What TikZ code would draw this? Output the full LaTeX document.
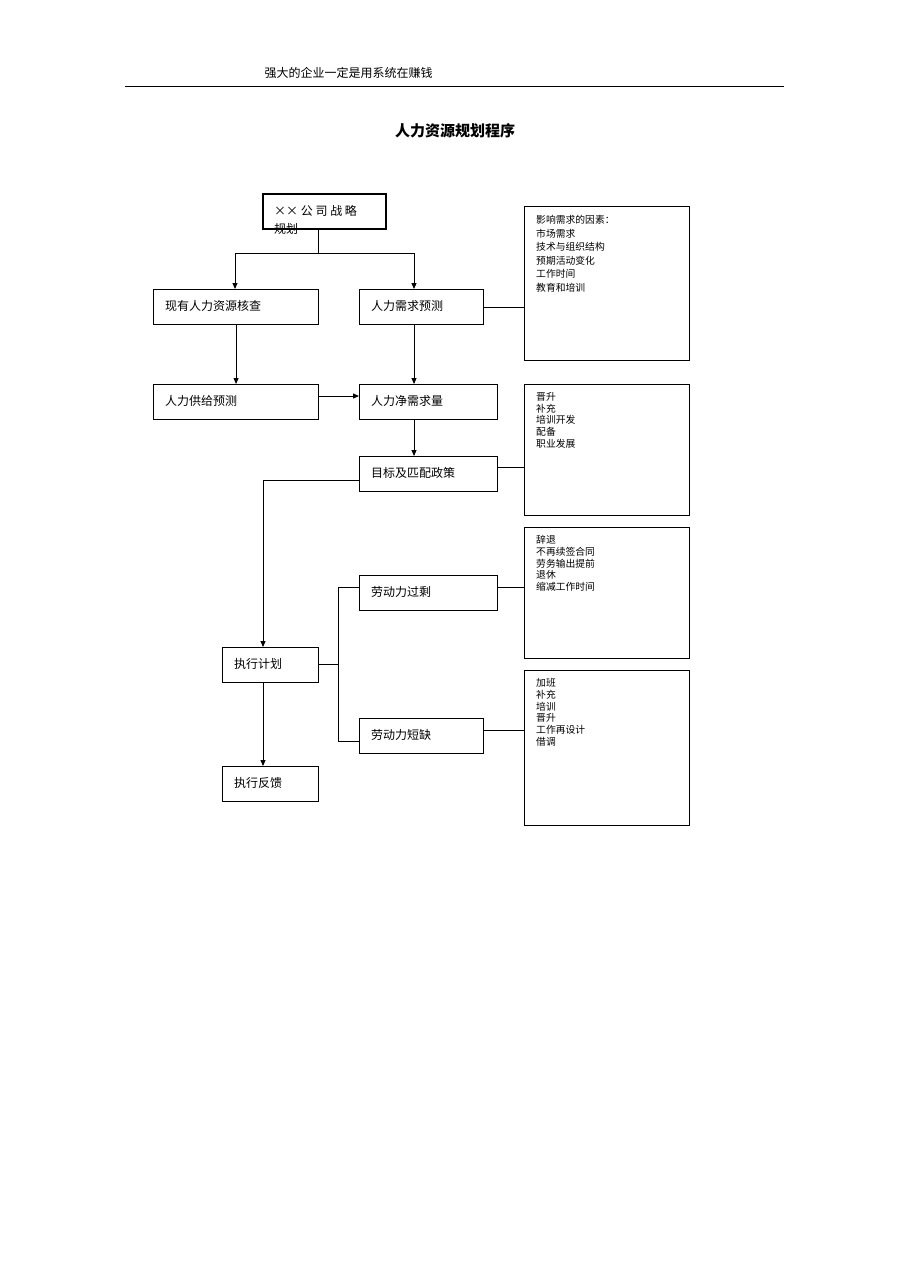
\documentclass[tikz,border=0pt]{standalone}
\usepackage{fontspec}
\setmainfont{Noto Sans CJK SC}
\usetikzlibrary{arrows.meta}
\begin{document}
\begin{tikzpicture}[x=1pt,y=-1pt,
 bx/.style={draw,line width=1.1pt,anchor=north west,inner sep=0pt},
 lbl/.style={anchor=west,font=\fontsize{12}{12}\selectfont,inner sep=0pt},
 sm/.style={anchor=north west,font=\fontsize{9.8}{11.8}\selectfont,align=left,inner sep=0pt},
 ln/.style={line width=0.9pt},
 ar/.style={ln,-{Triangle[length=6pt,width=5pt]}}]
\useasboundingbox (0,0) rectangle (909,1286);
\node[anchor=west,font=\fontsize{12}{12}\selectfont] (hd) at (261,73) {强大的企业一定是用系统在赚钱};
\draw[line width=1pt] (125,86) coordinate (h1) -- (784,86) coordinate (h2);
\node[font=\bfseries\fontsize{15}{15}\selectfont] (tt) at (455,131) {人力资源规划程序};
% boxes
\draw[bx] (263,194) rectangle (386,229); \coordinate (A) at (263,194);
\node[lbl] (At) at (274,211) {××\ 公\ 司\ 战\ 略};
\node[lbl] (At2) at (274,229) {规划};
\node[bx,minimum width=165pt,minimum height=35pt] (B) at (153,289) {};
\node[lbl] at (165,306) {现有人力资源核查};
\node[bx,minimum width=124pt,minimum height=35pt] (C) at (359,289) {};
\node[lbl] at (371,306) {人力需求预测};
\node[bx,minimum width=165pt,minimum height=154pt] (D) at (524,206) {};
\node[sm,font=\fontsize{9.8}{13.6}\selectfont] at (536,215) {影响需求的因素：\\市场需求\\技术与组织结构\\预期活动变化\\工作时间\\教育和培训};
\node[bx,minimum width=165pt,minimum height=35pt] (E) at (153,384) {};
\node[lbl] at (165,401) {人力供给预测};
\node[bx,minimum width=138pt,minimum height=35pt] (F) at (359,384) {};
\node[lbl] at (371,401) {人力净需求量};
\node[bx,minimum width=165pt,minimum height=131pt] (G) at (524,384) {};
\node[sm] at (536,392) {晋升\\补充\\培训开发\\配备\\职业发展};
\node[bx,minimum width=138pt,minimum height=35pt] (H) at (359,456) {};
\node[lbl] at (371,473) {目标及匹配政策};
\node[bx,minimum width=96pt,minimum height=35pt] (I) at (222,647) {};
\node[lbl] at (234,664) {执行计划};
\node[bx,minimum width=138pt,minimum height=35pt] (J) at (359,575) {};
\node[lbl] at (371,592) {劳动力过剩};
\node[bx,minimum width=124pt,minimum height=35pt] (K) at (359,718) {};
\node[lbl] at (371,735) {劳动力短缺};
\node[bx,minimum width=165pt,minimum height=131pt] (L) at (524,527) {};
\node[sm] at (536,535) {辞退\\不再续签合同\\劳务输出提前\\退休\\缩减工作时间};
\node[bx,minimum width=165pt,minimum height=155pt] (M) at (524,670) {};
\node[sm] at (536,678) {加班\\补充\\培训\\晋升\\工作再设计\\借调};
\node[bx,minimum width=96pt,minimum height=35pt] (N) at (222,766) {};
\node[lbl] at (234,783) {执行反馈};
% connectors
\draw[ln] (318,229) -- (318,253) coordinate (s);
\draw[ar] (235,253) -- (B.north -| 235,0);
\draw[ar] (235,253) -- (414,253) -- (C.north -| 414,0);
\draw[ln] (C.east) -- (D.west |- C.east);
\draw[ar] (B.south) -- (E.north);
\draw[ar] (C.south -| 414,0) -- (F.north -| 414,0);
\draw[ar] (E.east |- 0,396) -- (F.west |- 0,396);
\draw[ar] (F.south -| 414,0) -- (H.north -| 414,0);
\draw[ln] (H.east |- 0,467) -- (G.west |- 0,467);
\draw[ar] (H.west |- 0,480) -- (263,480) -- (I.north -| 263,0);
\draw[ln] (I.east |- 0,664) -- (338,664);
\draw[ln] (J.west |- 0,587) -- (338,587) -- (338,741) -- (K.west |- 0,741);
\draw[ln] (J.east |- 0,587) -- (L.west |- 0,587);
\draw[ln] (K.east |- 0,730) -- (M.west |- 0,730);
\draw[ar] (I.south -| 263,0) -- (N.north -| 263,0);
\end{tikzpicture}
\end{document}
